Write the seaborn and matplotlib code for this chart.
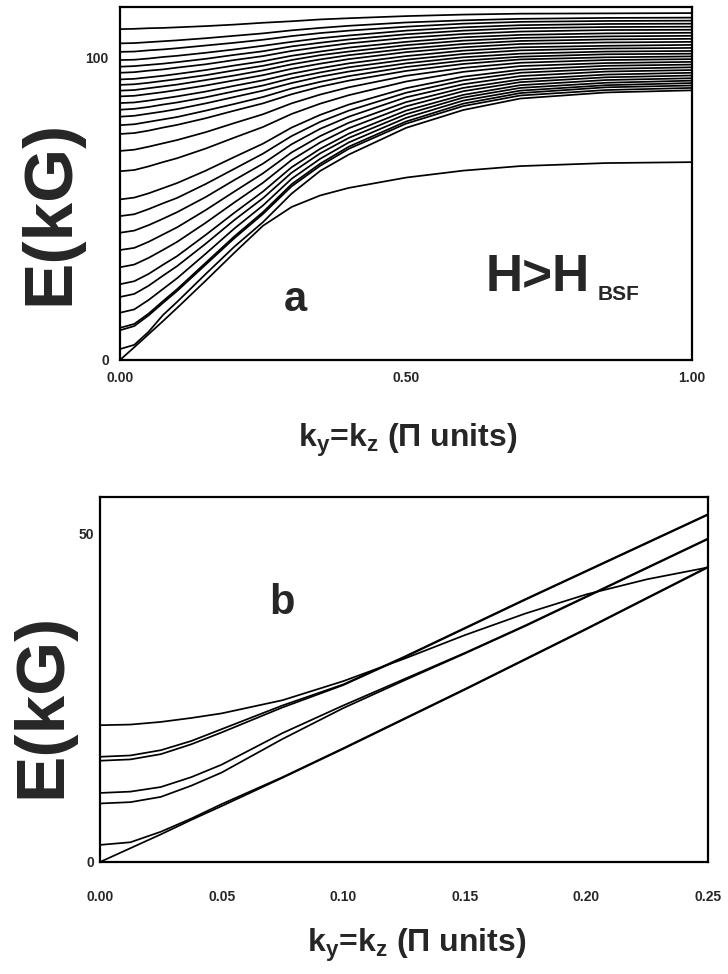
import pandas as pd
import matplotlib
matplotlib.use('Agg')
import matplotlib.pyplot as plt
import seaborn as sns

# panel a : k grid and branches
k_a = [0, 0.025, 0.05, 0.075, 0.1, 0.15, 0.2, 0.25, 0.3, 0.35, 0.4, 0.5, 0.6, 0.7, 0.85, 1.0]

a_lone = [0, 4.2, 8.5, 12.8, 17.2, 26.2, 35.4, 44.3, 50.5, 54.3, 56.8, 60.2, 62.5, 64.0, 65.0, 65.3]
a_b01 = [3.6, 5.0, 9.3, 14.8, 19.2, 28.4, 37.4, 45.5, 54.9, 62.4, 67.8, 76.6, 82.5, 86.3, 88.3, 89.0]
a_b02 = [9.8, 11.2, 14.7, 18.8, 22.8, 31.5, 40.2, 48.2, 57.3, 64.1, 69.7, 78.0, 83.8, 87.3, 89.1, 89.8]
a_b03 = [10.6, 11.9, 15.3, 19.4, 23.4, 32.1, 40.8, 48.8, 58.0, 64.8, 70.4, 78.7, 84.6, 88.1, 90.0, 90.6]
a_b04 = [15.6, 16.7, 19.8, 23.4, 27.0, 35.1, 43.4, 51.0, 59.8, 66.4, 71.8, 79.9, 85.6, 88.9, 90.7, 91.4]
a_b05 = [20.8, 21.8, 24.5, 27.8, 31.0, 38.4, 46.2, 53.4, 61.8, 68.2, 73.3, 81.1, 86.6, 89.8, 91.5, 92.2]
a_b06 = [25.0, 26.0, 28.4, 31.4, 34.3, 41.3, 48.6, 55.6, 63.6, 69.7, 74.7, 82.3, 87.5, 90.7, 92.4, 93.0]
a_b07 = [30.6, 31.5, 33.7, 36.3, 39.0, 45.3, 52.0, 58.5, 66.0, 71.8, 76.5, 83.7, 88.7, 91.7, 93.3, 93.9]
a_b08 = [36.3, 37.0, 39.0, 41.4, 43.8, 49.5, 55.6, 61.6, 68.5, 73.9, 78.3, 85.1, 89.8, 92.6, 94.2, 94.8]
a_b09 = [42.0, 42.7, 44.5, 46.6, 48.8, 53.8, 59.4, 64.8, 71.2, 76.3, 80.3, 86.7, 91.0, 93.7, 95.2, 95.7]
a_b10 = [47.5, 48.1, 49.8, 51.7, 53.5, 58.1, 63.1, 68.1, 73.9, 78.6, 82.3, 88.2, 92.3, 94.8, 96.1, 96.6]
a_b11 = [53.0, 53.6, 55.0, 56.7, 58.4, 62.5, 67.0, 71.4, 76.7, 80.9, 84.3, 89.7, 93.5, 95.8, 97.1, 97.5]
a_b12 = [62.3, 62.7, 63.9, 65.3, 66.6, 69.8, 73.4, 76.9, 81.2, 84.6, 87.4, 91.9, 95.1, 97.0, 98.0, 98.4]
a_b13 = [69.0, 69.4, 70.4, 71.5, 72.6, 75.2, 78.2, 81.1, 84.7, 87.6, 90.0, 93.8, 96.4, 98.1, 99.0, 99.3]
a_b14 = [74.6, 74.9, 75.7, 76.7, 77.6, 79.8, 82.3, 84.7, 87.7, 90.2, 92.2, 95.4, 97.7, 99.2, 99.9, 100.2]
a_b15 = [77.5, 77.8, 78.6, 79.4, 80.2, 82.3, 84.5, 86.8, 89.6, 91.8, 93.7, 96.7, 98.8, 100.1, 100.9, 101.1]
a_b16 = [80.3, 80.6, 81.3, 82.0, 82.8, 84.7, 86.8, 88.9, 91.4, 93.5, 95.2, 97.9, 99.9, 101.1, 101.8, 102.0]
a_b17 = [82.6, 82.9, 83.5, 84.3, 85.0, 86.7, 88.7, 90.6, 93.0, 94.9, 96.6, 99.1, 101.0, 102.2, 102.8, 103.0]
a_b18 = [84.8, 85.0, 85.6, 86.3, 87.0, 88.6, 90.5, 92.3, 94.5, 96.3, 97.9, 100.3, 102.1, 103.2, 103.7, 104.0]
a_b19 = [87.0, 87.2, 87.8, 88.4, 89.1, 90.6, 92.3, 94.0, 96.1, 97.8, 99.3, 101.6, 103.2, 104.3, 104.8, 105.0]
a_b20 = [88.9, 89.1, 89.7, 90.3, 90.9, 92.4, 93.9, 95.6, 97.6, 99.2, 100.6, 102.7, 104.3, 105.3, 105.8, 106.0]
a_b21 = [90.8, 91.0, 91.5, 92.1, 92.7, 94.0, 95.6, 97.1, 99.0, 100.6, 101.8, 103.9, 105.4, 106.3, 106.8, 107.0]
a_b22 = [92.6, 92.8, 93.3, 93.8, 94.4, 95.7, 97.2, 98.6, 100.4, 101.8, 103.1, 105.0, 106.5, 107.3, 107.8, 108.0]
a_b23 = [94.8, 95.0, 95.5, 95.9, 96.5, 97.6, 99.0, 100.3, 102.0, 103.3, 104.5, 106.3, 107.6, 108.4, 108.9, 109.0]
a_b24 = [96.8, 97.0, 97.4, 97.8, 98.3, 99.4, 100.7, 101.9, 103.5, 104.7, 105.8, 107.5, 108.7, 109.5, 109.9, 110.0]
a_b25 = [99.0, 99.1, 99.5, 100.0, 100.4, 101.4, 102.5, 103.7, 105.0, 106.2, 107.1, 108.7, 109.8, 110.5, 110.9, 111.0]
a_b26 = [101.7, 101.8, 102.2, 102.5, 102.9, 103.8, 104.7, 105.7, 106.9, 107.9, 108.7, 110.0, 111.0, 111.6, 111.9, 112.0]
a_b27 = [104.5, 104.6, 104.9, 105.2, 105.5, 106.2, 107.0, 107.8, 108.8, 109.6, 110.3, 111.4, 112.1, 112.6, 112.9, 113.0]
a_b28 = [109.2, 109.3, 109.5, 109.6, 109.8, 110.2, 110.7, 111.3, 111.8, 112.4, 112.8, 113.5, 114.0, 114.3, 114.4, 114.5]

branches_a = [a_lone, a_b01, a_b02, a_b03, a_b04, a_b05, a_b06, a_b07, a_b08, a_b09,
              a_b10, a_b11, a_b12, a_b13, a_b14, a_b15, a_b16, a_b17, a_b18, a_b19,
              a_b20, a_b21, a_b22, a_b23, a_b24, a_b25, a_b26, a_b27, a_b28]

# panel b : zoom on small k
k_b = [0, 0.0125, 0.025, 0.0375, 0.05, 0.075, 0.1, 0.125, 0.15, 0.175, 0.2, 0.225, 0.25]
b_c1 = [20.8, 20.9, 21.3, 21.9, 22.6, 24.6, 27.5, 30.9, 34.5, 37.8, 40.7, 43.0, 44.8]
b_c2 = [16.0, 16.2, 17.0, 18.4, 20.2, 23.8, 27.0, 31.2, 35.6, 40.0, 44.3, 48.6, 52.9]
b_c3 = [15.4, 15.6, 16.4, 17.9, 19.7, 23.5, 26.9, 31.1, 35.5, 39.9, 44.2, 48.5, 52.8]
b_c4 = [10.5, 10.7, 11.4, 12.9, 14.8, 19.6, 23.8, 27.8, 31.8, 36.0, 40.4, 44.8, 49.2]
b_c5 = [8.9, 9.1, 9.9, 11.6, 13.6, 18.7, 23.4, 27.6, 31.7, 35.9, 40.3, 44.7, 49.1]
b_c6 = [2.6, 3.0, 4.6, 6.6, 8.8, 12.9, 17.3, 21.8, 26.3, 30.9, 35.5, 40.2, 44.9]
b_c7 = [0, 2.1, 4.2, 6.4, 8.5, 12.8, 17.2, 21.7, 26.2, 30.8, 35.4, 40.1, 44.8]
branches_b = [b_c1, b_c2, b_c3, b_c4, b_c5, b_c6, b_c7]


def long_df(k, branches):
    rows = []
    for i, br in enumerate(branches):
        for kk, e in zip(k, br):
            rows.append({'k': kk, 'E': e, 'branch': i})
    return pd.DataFrame(rows)


df_a = long_df(k_a, branches_a)
df_b = long_df(k_b, branches_b)

sns.set_style('white')
plt.rcParams['font.family'] = ['Liberation Sans', 'DejaVu Sans']
plt.rcParams['font.weight'] = 'bold'
plt.rcParams['mathtext.fontset'] = 'custom'
plt.rcParams['mathtext.rm'] = 'Liberation Sans:bold'
plt.rcParams['mathtext.it'] = 'Liberation Sans:bold'
plt.rcParams['mathtext.bf'] = 'Liberation Sans:bold'

fig = plt.figure(figsize=(7.28, 9.74), dpi=100)
ax_a = fig.add_axes([0.1648, 0.6304, 0.7857, 0.3624])
ax_b = fig.add_axes([0.1374, 0.115, 0.8352, 0.3747])

sns.lineplot(data=df_a, x='k', y='E', units='branch', estimator=None,
             color='black', lw=1.25, ax=ax_a)
sns.lineplot(data=df_b, x='k', y='E', units='branch', estimator=None,
             color='black', lw=1.25, ax=ax_b)

for ax in (ax_a, ax_b):
    for s in ax.spines.values():
        s.set_linewidth(1.6)
        s.set_color('black')
    ax.set_xlabel('')
    ax.set_ylabel('')

ax_a.set_xlim(0, 1)
ax_a.set_ylim(0, 116.5)
ax_a.set_xticks([0, 0.25, 0.5, 0.75, 1.0], ['0.00', '', '0.50', '', '1.00'])
ax_a.set_yticks([0, 100], ['0', '100'])
ax_a.tick_params(axis='x', direction='in', length=4, width=1, pad=8, labelsize=10)
ax_a.tick_params(axis='y', direction='in', length=4, width=1, pad=8, labelsize=10)

ax_b.set_xlim(0, 0.25)
ax_b.set_ylim(0, 55.5)
ax_b.set_xticks([0, 0.05, 0.1, 0.15, 0.2, 0.25],
                ['0.00', '0.05', '0.10', '0.15', '0.20', '0.25'])
ax_b.set_yticks([0, 50], ['0', '50'])
ax_b.tick_params(axis='x', direction='in', length=4, width=1, pad=20, labelsize=10)
ax_b.tick_params(axis='y', direction='in', length=4, width=1, pad=4, labelsize=10)

# labels
xlab = r'k$_\mathregular{y}$=k$_\mathregular{z}$ (Π units)'
fig.text(408 / 728, 1 - 440 / 974, xlab, ha='center', va='center', fontsize=23, fontweight='bold')
fig.text(417 / 728, 1 - 945 / 974, xlab, ha='center', va='center', fontsize=23, fontweight='bold')
fig.text(50 / 728, 1 - 212 / 974, 'E(kG)', rotation=90, ha='center', va='center',
         fontsize=50, fontweight='bold')
fig.text(42 / 728, 1 - 705 / 974, 'E(kG)', rotation=90, ha='center', va='center',
         fontsize=50, fontweight='bold')

ax_a.text(0.306, 0.17, 'a', transform=ax_a.transAxes, ha='center', va='center',
          fontsize=30, fontweight='bold')
ax_a.text(0.64, 0.195, 'H>H', transform=ax_a.transAxes, ha='left', va='baseline',
          fontsize=37, fontweight='bold')
ax_a.text(0.835, 0.17, 'BSF', transform=ax_a.transAxes, ha='left', va='baseline',
          fontsize=15, fontweight='bold')
ax_b.text(0.30, 0.71, 'b', transform=ax_b.transAxes, ha='center', va='center',
          fontsize=30, fontweight='bold')

fig.savefig('out.png', dpi=100)
